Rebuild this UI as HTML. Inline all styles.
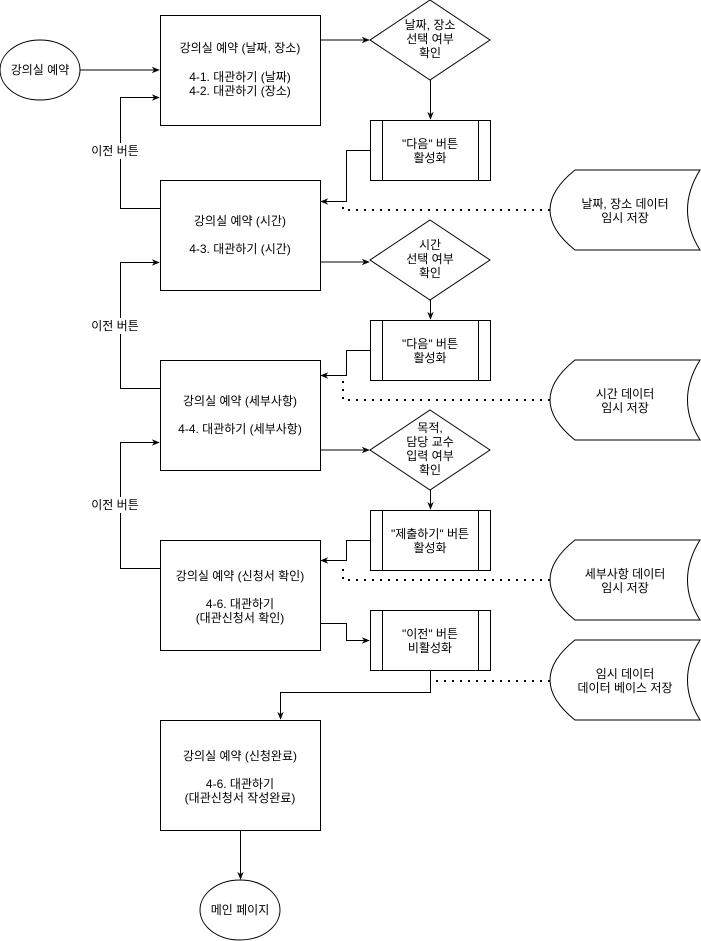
<!DOCTYPE html>
<html><head><meta charset="utf-8"><style>
html,body{margin:0;padding:0;background:#fff}
svg{display:block}
text{font-family:"Liberation Sans","Noto Sans CJK KR",sans-serif;font-size:12px;fill:#000;text-anchor:middle}
</style></head><body>
<svg width="701" height="941" viewBox="0 0 701 941" xmlns="http://www.w3.org/2000/svg">
<defs><marker id="a" viewBox="0 0 10 10" refX="9" refY="5" markerWidth="8" markerHeight="8" orient="auto"><path d="M0,1 L10,5 L0,9 L3,5 Z" fill="#000"/></marker></defs>
<g fill="#fff" stroke="#000" stroke-width="1">
<ellipse cx="40" cy="70" rx="40" ry="30"/>
<rect x="160.5" y="15.5" width="160" height="110"/>
<rect x="160.5" y="180.5" width="160" height="110"/>
<rect x="160.5" y="360.5" width="160" height="110"/>
<rect x="160.5" y="540.5" width="160" height="110"/>
<rect x="160.5" y="720.5" width="160" height="110"/>
<ellipse cx="240" cy="910" rx="40" ry="30"/>
<path d="M430,0 L490,40 L430,80 L370,40Z"/>
<path d="M430,220 L490,260 L430,300 L370,260Z"/>
<path d="M430,410 L490,450 L430,490 L370,450Z"/>
<rect x="370.5" y="120.5" width="120" height="60"/><path d="M382.5,120.5V180.5M478.5,120.5V180.5"/>
<rect x="370.5" y="320.5" width="120" height="60"/><path d="M382.5,320.5V380.5M478.5,320.5V380.5"/>
<rect x="370.5" y="510.5" width="120" height="60"/><path d="M382.5,510.5V570.5M478.5,510.5V570.5"/>
<rect x="370.5" y="610.5" width="120" height="60"/><path d="M382.5,610.5V670.5M478.5,610.5V670.5"/>
<path d="M575,170 L700,170 Q675,210 700,250 L575,250 Q525,210 575,170Z"/>
<path d="M575,360 L700,360 Q675,400 700,440 L575,440 Q525,400 575,360Z"/>
<path d="M575,540 L700,540 Q675,580 700,620 L575,620 Q525,580 575,540Z"/>
<path d="M575,640 L700,640 Q675,680 700,720 L575,720 Q525,680 575,640Z"/>
</g>
<g fill="none" stroke="#000" stroke-width="1">
<path d="M80,70 H159" marker-end="url(#a)"/>
<path d="M320,40 H369" marker-end="url(#a)"/>
<path d="M320,262 H369" marker-end="url(#a)"/>
<path d="M320,450 H369" marker-end="url(#a)"/>
<path d="M430.5,80 V119" marker-end="url(#a)"/>
<path d="M430.5,300 V319" marker-end="url(#a)"/>
<path d="M430.5,490 V509" marker-end="url(#a)"/>
<path d="M370,150.5 H346.5 V201.5 H321" marker-end="url(#a)"/>
<path d="M370,350.5 H346.5 V375.5 H321" marker-end="url(#a)"/>
<path d="M370,540.5 H346.5 V560.5 H321" marker-end="url(#a)"/>
<path d="M320,623.5 H346.5 V640.5 H369" marker-end="url(#a)"/>
<path d="M430.5,670 V692.5 H280.5 V719" marker-end="url(#a)"/>
<path d="M240.5,830 V879" marker-end="url(#a)"/>
<path d="M160,208.5 H120.5 V97.5 H159" marker-end="url(#a)"/>
<path d="M160,388.5 H120.5 V262.5 H159" marker-end="url(#a)"/>
<path d="M160,568.5 H120.5 V442.5 H159" marker-end="url(#a)"/>
<g stroke-width="2" stroke-dasharray="2,6">
<path d="M550,210 H343 V203"/>
<path d="M550,400 H343 V380"/>
<path d="M550,580 H343 V563"/>
<path d="M550,681 H434"/>
</g>
</g>
<g fill="#fff"><rect x="85" y="143" width="62" height="16"/><rect x="85" y="318" width="62" height="16"/><rect x="85" y="497" width="62" height="16"/></g>
<text x="115" y="155">이전 버튼</text>
<text x="115" y="330">이전 버튼</text>
<text x="115" y="509">이전 버튼</text>
<text x="40" y="74">강의실 예약</text>
<text x="240" y="52">강의실 예약 (날짜, 장소)</text>
<text x="240" y="81">4-1. 대관하기 (날짜)</text>
<text x="240" y="95">4-2. 대관하기 (장소)</text>
<text x="240" y="225">강의실 예약 (시간)</text>
<text x="240" y="253">4-3. 대관하기 (시간)</text>
<text x="240" y="405">강의실 예약 (세부사항)</text>
<text x="240" y="433">4-4. 대관하기 (세부사항)</text>
<text x="240" y="580">강의실 예약 (신청서 확인)</text>
<text x="240" y="608">4-6. 대관하기</text>
<text x="240" y="622">(대관신청서 확인)</text>
<text x="240" y="760">강의실 예약 (신청완료)</text>
<text x="240" y="788">4-6. 대관하기</text>
<text x="240" y="802">(대관신청서 작성완료)</text>
<text x="240" y="914">메인 페이지</text>
<text x="430" y="29">날짜, 장소</text><text x="430" y="43">선택 여부</text><text x="430" y="57">확인</text>
<text x="430" y="249">시간</text><text x="430" y="263">선택 여부</text><text x="430" y="277">확인</text>
<text x="430" y="432">목적,</text><text x="430" y="446">담당 교수</text><text x="430" y="460">입력 여부</text><text x="430" y="474">확인</text>
<text x="430" y="148">"다음" 버튼</text><text x="430" y="162">활성화</text>
<text x="430" y="348">"다음" 버튼</text><text x="430" y="362">활성화</text>
<text x="430" y="538">"제출하기" 버튼</text><text x="430" y="552">활성화</text>
<text x="430" y="638">"이전" 버튼</text><text x="430" y="652">비활성화</text>
<text x="625" y="208">날짜, 장소 데이터</text><text x="625" y="222">임시 저장</text>
<text x="625" y="398">시간 데이터</text><text x="625" y="412">임시 저장</text>
<text x="625" y="578">세부사항 데이터</text><text x="625" y="592">임시 저장</text>
<text x="625" y="678">임시 데이터</text><text x="625" y="692">데이터 베이스 저장</text>
</svg>
</body></html>
